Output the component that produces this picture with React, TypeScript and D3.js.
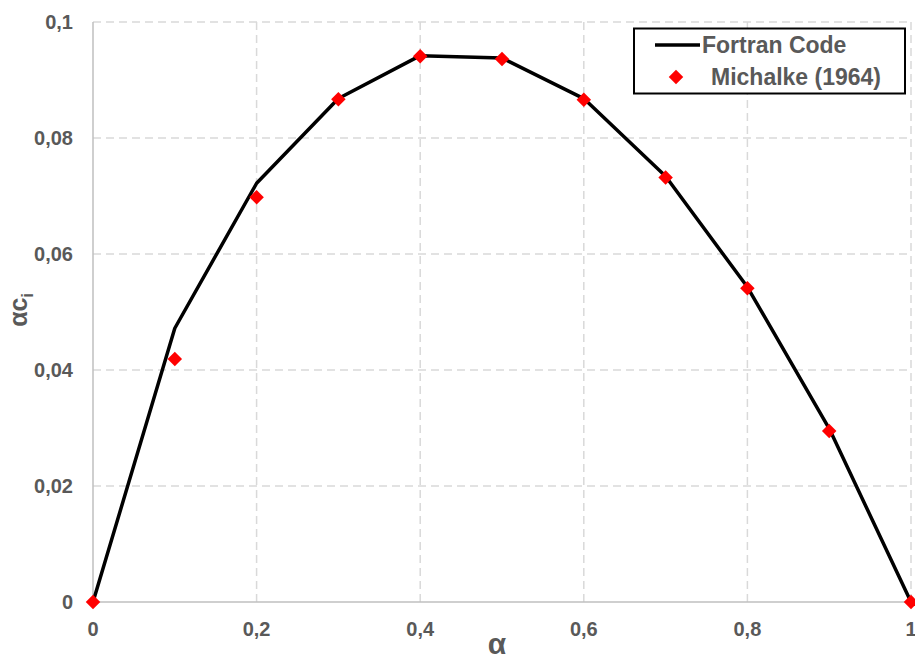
import React, { useRef, useEffect } from "react";
import * as d3 from "d3";

const alphaFortran = [0, 0.1, 0.2, 0.3, 0.4, 0.5, 0.6, 0.7, 0.8, 0.9, 1];
const ciFortran = [0, 0.0472, 0.0722, 0.0868, 0.0942, 0.0938, 0.0868, 0.0734, 0.0543, 0.0299, 0];

const alphaMichalke = [0, 0.1, 0.2, 0.3, 0.4, 0.5, 0.6, 0.7, 0.8, 0.9, 1];
const ciMichalke = [0, 0.0419, 0.0698, 0.0867, 0.0941, 0.0936, 0.0866, 0.0732, 0.0541, 0.0295, 0];

const xTicks = [0, 0.2, 0.4, 0.6, 0.8, 1];
const yTicks = [0, 0.02, 0.04, 0.06, 0.08, 0.1];

const seriesNames = ["Fortran Code", "Michalke (1964)"];

const App = () => {
  const wrapper = useRef<SVGSVGElement>(null);
  const width = 915;
  const height = 666;
  const margin = { top: 22, right: 4, bottom: 64, left: 93 };

  useEffect(() => {
    const svg = d3.select(wrapper.current);
    svg.selectAll("*").remove();

    const x = d3.scaleLinear().domain([0, 1]).range([margin.left, width - margin.right]);
    const y = d3.scaleLinear().domain([0, 0.1]).range([height - margin.bottom, margin.top]);
    const fmt = (d: number) => String(d).replace(".", ",");
    const font = "'Liberation Sans', Arial, sans-serif";
    const grey = "#595959";

    // grid
    svg
      .append("g")
      .selectAll("line")
      .data(yTicks.filter((d) => d > 0))
      .enter()
      .append("line")
      .attr("x1", x(0))
      .attr("x2", x(1))
      .attr("y1", (d) => y(d))
      .attr("y2", (d) => y(d))
      .attr("stroke", "#d9d9d9")
      .attr("stroke-width", 1.5)
      .attr("stroke-dasharray", "8,5");

    svg
      .append("g")
      .selectAll("line")
      .data(xTicks.filter((d) => d > 0))
      .enter()
      .append("line")
      .attr("x1", (d) => x(d))
      .attr("x2", (d) => x(d))
      .attr("y1", y(0))
      .attr("y2", y(0.1))
      .attr("stroke", "#d9d9d9")
      .attr("stroke-width", 1.5)
      .attr("stroke-dasharray", "8,5");

    // axes lines
    svg
      .append("line")
      .attr("x1", x(0))
      .attr("x2", x(1))
      .attr("y1", y(0))
      .attr("y2", y(0))
      .attr("stroke", "#bfbfbf")
      .attr("stroke-width", 1.5);
    svg
      .append("line")
      .attr("x1", x(0))
      .attr("x2", x(0))
      .attr("y1", y(0))
      .attr("y2", y(0.1))
      .attr("stroke", "#bfbfbf")
      .attr("stroke-width", 1.5);

    // tick labels
    svg
      .append("g")
      .selectAll("text")
      .data(xTicks)
      .enter()
      .append("text")
      .text((d) => fmt(d))
      .attr("x", (d) => x(d))
      .attr("y", y(0) + 27)
      .attr("dy", "0.35em")
      .style("text-anchor", "middle")
      .attr("fill", grey)
      .style("font", `bold 20px ${font}`);

    svg
      .append("g")
      .selectAll("text")
      .data(yTicks)
      .enter()
      .append("text")
      .text((d) => fmt(d))
      .attr("x", x(0) - 20)
      .attr("y", (d) => y(d))
      .attr("dy", "0.35em")
      .style("text-anchor", "end")
      .attr("fill", grey)
      .style("font", `bold 20px ${font}`);

    // axis titles
    svg
      .append("text")
      .text("α")
      .attr("x", 497)
      .attr("y", 654)
      .style("text-anchor", "middle")
      .attr("fill", grey)
      .style("font", `bold 30px ${font}`);

    const yTitle = svg
      .append("text")
      .attr("transform", `translate(27, 310) rotate(-90)`)
      .style("text-anchor", "middle")
      .attr("fill", grey)
      .style("font", `bold 25px ${font}`);
    yTitle.append("tspan").text("αc");
    yTitle.append("tspan").text("i").attr("dy", 6).style("font-size", "16px");

    // line
    const line = d3
      .line<number>()
      .x((d, i) => x(alphaFortran[i]))
      .y((d) => y(d));
    svg
      .append("path")
      .datum(ciFortran)
      .attr("d", line)
      .attr("fill", "none")
      .attr("stroke", "#000")
      .attr("stroke-width", 3.5)
      .attr("stroke-linejoin", "round");

    // markers
    const diamond = d3.symbol().type(d3.symbolSquare).size(105);
    svg
      .append("g")
      .selectAll("path")
      .data(ciMichalke)
      .enter()
      .append("path")
      .attr("d", diamond)
      .attr("transform", (d, i) => `translate(${x(alphaMichalke[i])},${y(d)}) rotate(45)`)
      .attr("fill", "#ff0000");

    // legend
    const lg = svg.append("g");
    lg.append("rect")
      .attr("x", 634)
      .attr("y", 28.5)
      .attr("width", 271)
      .attr("height", 65)
      .attr("fill", "#fff")
      .attr("stroke", "#000")
      .attr("stroke-width", 2);
    lg.append("line")
      .attr("x1", 655)
      .attr("x2", 700)
      .attr("y1", 45)
      .attr("y2", 45)
      .attr("stroke", "#000")
      .attr("stroke-width", 3.5);
    lg.append("path")
      .attr("d", diamond)
      .attr("transform", "translate(676,77) rotate(45)")
      .attr("fill", "#ff0000");
    lg.append("text")
      .text(seriesNames[0])
      .attr("x", 702)
      .attr("y", 45)
      .attr("dy", "0.35em")
      .attr("fill", grey)
      .style("font", `bold 23px ${font}`);
    lg.append("text")
      .text(seriesNames[1])
      .attr("x", 711)
      .attr("y", 77)
      .attr("dy", "0.35em")
      .attr("fill", grey)
      .style("font", `bold 23px ${font}`);
  }, []);

  return (
    <svg
      ref={wrapper}
      width={width}
      height={height}
      style={{ position: "absolute", left: 0, top: 0, background: "#fff" }}
    />
  );
};

export default App;
